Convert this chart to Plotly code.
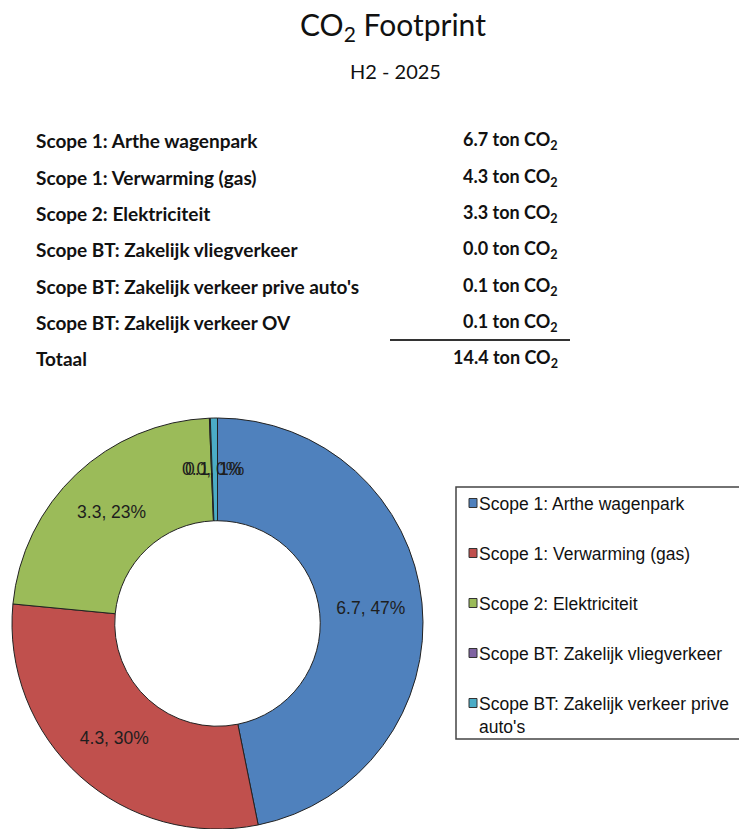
import math
import plotly.graph_objects as go

# ---- data ----
categories = [
    "Scope 1: Arthe wagenpark",
    "Scope 1: Verwarming (gas)",
    "Scope 2: Elektriciteit",
    "Scope BT: Zakelijk vliegverkeer",
    "Scope BT: Zakelijk verkeer prive auto's",
    "Scope BT: Zakelijk verkeer OV",
]
values = [6.72, 4.26, 3.28, 0.01, 0.08, 0.06]   # ton CO2 (estimated)
pie_count = 5                                    # chart shows first five categories
legend_labels = [
    "Scope 1: Arthe wagenpark",
    "Scope 1: Verwarming (gas)",
    "Scope 2: Elektriciteit",
    "Scope BT: Zakelijk vliegverkeer",
    "Scope BT: Zakelijk verkeer prive<br>auto's",
]
colors = ["#4F81BD", "#C0504D", "#9BBB59", "#8064A2", "#4BACC6", "#F79646"]
title_text = "CO<sub>2</sub> Footprint"
subtitle_text = "H2 - 2025"
total_label = "Totaal"

W, H = 739, 829


def px(x):
    return x / W


def py(y):
    return 1 - y / H


HOLE = 0.5
dom_x = [10, 425]
dom_y_top = 418
pie_vals = values[:pie_count]
pie_total = sum(pie_vals)
small = [v / pie_total < 0.02 for v in pie_vals]
label_fmt = "%{value:.1f}, %{percent:.0%}"
pie_font = dict(family="Liberation Sans, Arial", size=17.5, color="#1e1e1e")

fig = go.Figure()
fig.add_trace(go.Pie(
    labels=categories[:pie_count],
    values=pie_vals,
    marker=dict(colors=colors[:pie_count], line=dict(color="#222222", width=1)),
    hole=HOLE,
    sort=False,
    direction="clockwise",
    rotation=0,
    texttemplate=["" if s else label_fmt for s in small],
    textposition="inside",
    insidetextorientation="horizontal",
    textfont=pie_font,
    domain=dict(x=[px(dom_x[0]), px(dom_x[1])], y=[0, py(dom_y_top)]),
    showlegend=False,
    hoverinfo="label+value+percent",
))

annotations = []
shapes = []

# labels of the very thin slices, placed at their mid-ring angle (as in the original)
dom_h = H - dom_y_top
R = min(dom_x[1] - dom_x[0], dom_h) / 2
cx = (dom_x[0] + dom_x[1]) / 2
cy = H - dom_h / 2
r_mid = R * (1 + HOLE) / 2
cum = 0.0
for v, s in zip(pie_vals, small):
    theta = 2 * math.pi * (cum + v / 2) / pie_total
    cum += v
    if s:
        annotations.append(dict(
            text=f"{v:.1f}, {v / pie_total:.0%}",
            x=px(cx + r_mid * math.sin(theta)), y=py(cy - r_mid * math.cos(theta)),
            xref="paper", yref="paper", showarrow=False,
            xanchor="center", yanchor="middle", font=pie_font))

# title
annotations.append(dict(text=title_text, x=px(393), y=py(26), xref="paper", yref="paper",
                        showarrow=False, xanchor="center", yanchor="middle",
                        font=dict(family="Lato", size=30, color="#111111")))
annotations.append(dict(text=subtitle_text, x=px(395), y=py(71), xref="paper", yref="paper",
                        showarrow=False, xanchor="center", yanchor="middle",
                        font=dict(family="Lato", size=20, color="#111111")))

# table
tbl_font = dict(family="Lato", size=19, color="#111111", weight="bold")
val_font = dict(family="Lato", size=18, color="#111111", weight="bold")
row_y0, row_dy = 141, 36.3
for i, (cat, v) in enumerate(zip(categories, values)):
    y = row_y0 + i * row_dy
    annotations.append(dict(text=cat, x=px(34), y=py(y), xref="paper", yref="paper",
                            showarrow=False, xanchor="left", yanchor="middle", font=tbl_font))
    annotations.append(dict(text=f"{v:.1f} ton CO<sub>2</sub>", x=px(560), y=py(y),
                            xref="paper", yref="paper", showarrow=False,
                            xanchor="right", yanchor="middle", font=val_font))
y_tot = row_y0 + len(categories) * row_dy
annotations.append(dict(text=total_label, x=px(34), y=py(y_tot), xref="paper", yref="paper",
                        showarrow=False, xanchor="left", yanchor="middle", font=tbl_font))
annotations.append(dict(text=f"{sum(values):.1f} ton CO<sub>2</sub>", x=px(560), y=py(y_tot),
                        xref="paper", yref="paper", showarrow=False,
                        xanchor="right", yanchor="middle", font=val_font))
shapes.append(dict(type="line", xref="paper", yref="paper",
                   x0=px(390), x1=px(570), y0=py(340), y1=py(340),
                   line=dict(color="#333333", width=2)))

# legend box (manual, as in the original chart)
shapes.append(dict(type="rect", xref="paper", yref="paper",
                   x0=px(456), x1=px(760), y0=py(487), y1=py(739),
                   line=dict(color="#444444", width=1.5), fillcolor="rgba(0,0,0,0)"))
leg_font = dict(family="Liberation Sans, Arial", size=17.5, color="#111111")
leg_y0, leg_dy = 503, 50
for i, (lab, col) in enumerate(zip(legend_labels, colors)):
    yc = leg_y0 + i * leg_dy
    shapes.append(dict(type="rect", xref="paper", yref="paper",
                       x0=px(469), x1=px(477), y0=py(yc - 4.5), y1=py(yc + 4.5),
                       line=dict(color="#333333", width=1), fillcolor=col))
    annotations.append(dict(text=lab, x=px(477), y=py(yc - 11), xref="paper", yref="paper",
                            showarrow=False, xanchor="left", yanchor="top", align="left",
                            font=leg_font))

fig.update_layout(
    width=W, height=H,
    margin=dict(l=0, r=0, t=0, b=0),
    paper_bgcolor="white", plot_bgcolor="white",
    annotations=annotations,
    shapes=shapes,
)

fig.write_html("out.html",
               config={"displayModeBar": False},
               post_script="document.body.style.margin='0';document.body.style.overflow='hidden';")
